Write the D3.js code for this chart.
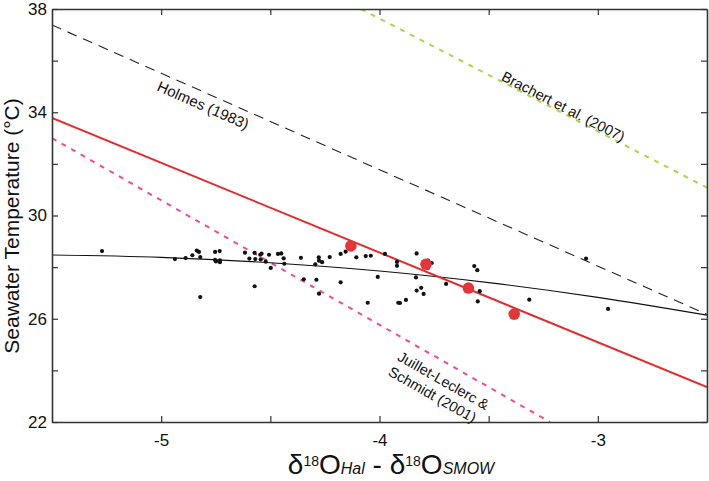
<!DOCTYPE html>
<html>
<head>
<meta charset="utf-8">
<script src="https://cdn.jsdelivr.net/npm/d3@7"></script>
<style>
html,body{margin:0;padding:0;background:#fff;}
svg{display:block;font-family:"Liberation Sans",Arial,sans-serif;}
</style>
</head>
<body>
<svg id="chart" width="709" height="481"></svg>
<script>
// ---- data ----
const xDomain = [-5.5, -2.5];
const yDomain = [22, 38];
const xTicks = [-5, -4.5, -4, -3.5, -3];
const xTickLabels = {"-5": "-5", "-4": "-4", "-3": "-3"};
const yTicks = [22, 24, 26, 28, 30, 32, 34, 36, 38];
const yTickLabels = {"22": "22", "26": "26", "30": "30", "34": "34", "38": "38"};

// small black points (x = δ18O, y = temperature)
const pointsX = [-5.271,-4.937,-4.888,-4.857,-4.837,-4.827,-4.821,-4.753,-4.732,-4.753,-4.749,-4.731,-4.731,-4.821,
  -4.616,-4.596,-4.572,-4.569,-4.546,-4.540,-4.544,-4.521,-4.506,-4.465,-4.450,-4.439,-4.436,-4.498,-4.572,
  -4.360,-4.278,-4.277,-4.263,-4.294,-4.228,-4.347,-4.289,-4.277,-4.178,-4.155,-4.106,-4.063,-4.040,-4.178,
  -4.008,-4.054,-3.975,-3.920,-3.920,-3.914,-3.906,-3.879,-3.830,-3.778,-3.761,-3.778,-3.833,-3.695,-3.809,
  -3.830,-3.798,-3.566,-3.552,-3.541,-3.550,-3.314,-3.054,-2.953];
const pointsY = [28.62,28.31,28.35,28.46,28.64,28.59,28.39,28.59,28.62,28.28,28.22,28.26,28.19,26.84,
  28.56,28.33,28.55,28.31,28.48,28.52,28.30,28.21,28.48,28.51,28.53,28.34,28.13,27.97,27.26,
  28.36,28.38,28.25,28.19,28.11,28.39,27.53,27.51,26.97,28.51,28.60,28.38,28.43,28.44,27.41,
  27.62,26.62,28.51,28.20,28.05,26.62,26.61,26.73,28.53,28.25,28.16,27.97,27.60,27.35,27.20,
  27.09,26.96,28.04,27.88,27.07,26.67,26.74,28.33,26.38];

// large red points
const redX = [-4.131, -3.787, -3.593, -3.383];
const redY = [28.82, 28.11, 27.19, 26.18];

// black fitted curve through the small points
const curveX = [-5.5, -5.0, -4.5, -4.0, -3.5, -3.0, -2.5];
const curveY = [28.47, 28.38, 28.17, 27.85, 27.40, 26.83, 26.14];

// calibration lines (end points)
const holmesX = [-5.5, -2.5],    holmesY = [37.38, 26.17];
const thisStudyX = [-5.5, -2.5], thisStudyY = [33.78, 23.35];
const juilletX = [-5.5, -3.219], juilletY = [33.0, 22.0];
const brachertX = [-4.085, -2.5], brachertY = [38.0, 31.08];

// ---- drawing ----
const svg = d3.select("#chart");
const mLeft = 52, mRight = 707, mTop = 9, mBottom = 422;
const x = d3.scaleLinear().domain(xDomain).range([mLeft, mRight]);
const y = d3.scaleLinear().domain(yDomain).range([mBottom, mTop]);

const zip = (a, b) => a.map((v, i) => [v, b[i]]);
const line = d3.line().x(d => x(d[0])).y(d => y(d[1]));

svg.append("clipPath").attr("id", "clip").append("rect")
  .attr("x", mLeft).attr("y", mTop).attr("width", mRight - mLeft).attr("height", mBottom - mTop);
const g = svg.append("g").attr("clip-path", "url(#clip)");

// Holmes
g.append("path").attr("d", line(zip(holmesX, holmesY)))
  .attr("fill", "none").attr("stroke", "#222").attr("stroke-width", 1.1).attr("stroke-dasharray", "10,7");
// Brachert
g.append("path").attr("d", line(zip(brachertX, brachertY)))
  .attr("fill", "none").attr("stroke", "#a6d84a").attr("stroke-width", 2).attr("stroke-dasharray", "5,6");
// Juillet-Leclerc & Schmidt
g.append("path").attr("d", line(zip(juilletX, juilletY)))
  .attr("fill", "none").attr("stroke", "#f04b93").attr("stroke-width", 2).attr("stroke-dasharray", "5,6");
// black curve
g.append("path").attr("d", d3.line().curve(d3.curveMonotoneX).x(d => x(d[0])).y(d => y(d[1]))(zip(curveX, curveY)))
  .attr("fill", "none").attr("stroke", "#111").attr("stroke-width", 1.2);
// this study
g.append("path").attr("d", line(zip(thisStudyX, thisStudyY)))
  .attr("fill", "none").attr("stroke", "#e42a2c").attr("stroke-width", 2);

// points
g.selectAll("circle.pt").data(zip(pointsX, pointsY)).enter().append("circle")
  .attr("class", "pt").attr("cx", d => x(d[0])).attr("cy", d => y(d[1])).attr("r", 2.1).attr("fill", "#111");
g.selectAll("circle.red").data(zip(redX, redY)).enter().append("circle")
  .attr("class", "red").attr("cx", d => x(d[0])).attr("cy", d => y(d[1])).attr("r", 5.8).attr("fill", "#e33638");

// axes
const axisColor = "#333";
function styleAxis(sel) {
  sel.selectAll("path.domain").attr("stroke", axisColor).attr("stroke-width", 1.6);
  sel.selectAll(".tick line").attr("stroke", axisColor).attr("stroke-width", 1.2);
  sel.selectAll("text").attr("fill", "#111").attr("font-size", 17)
    .attr("font-family", "'Liberation Sans', Arial, sans-serif");
}
const xb = svg.append("g").attr("transform", `translate(0,${mBottom})`)
  .call(d3.axisBottom(x).tickValues(xTicks).tickSizeInner(-6).tickSizeOuter(0).tickPadding(12)
    .tickFormat(d => xTickLabels[String(d)] || ""));
styleAxis(xb);
const xt = svg.append("g").attr("transform", `translate(0,${mTop})`)
  .call(d3.axisTop(x).tickValues(xTicks).tickSizeInner(-6).tickSizeOuter(0).tickFormat(""));
styleAxis(xt);
const yl = svg.append("g").attr("transform", `translate(${mLeft},0)`)
  .call(d3.axisLeft(y).tickValues(yTicks).tickSizeInner(-6).tickSizeOuter(0).tickPadding(5)
    .tickFormat(d => yTickLabels[String(d)] || ""));
styleAxis(yl);
const yr = svg.append("g").attr("transform", `translate(${mRight},0)`)
  .call(d3.axisRight(y).tickValues(yTicks).tickSizeInner(-6).tickSizeOuter(0).tickFormat(""));
styleAxis(yr);

// line labels
function label(text, cx, cy, angle, size) {
  svg.append("text").attr("transform", `translate(${cx},${cy}) rotate(${angle})`)
    .attr("text-anchor", "middle").attr("font-size", size).attr("fill", "#111").text(text);
}
label("Holmes (1983)", 201, 110, 23.8, 15);
label("Brachert et al. (2007)", 561, 111, 27.3, 14.5);
label("Juillet-Leclerc &", 441, 385, 29.5, 14.5);
label("Schmidt (2001)", 430, 399, 29.5, 14.5);

// y axis title
svg.append("text").attr("transform", "translate(19,226) rotate(-90)")
  .attr("text-anchor", "middle").attr("font-size", 21).attr("fill", "#111")
  .text("Seawater Temperature (°C)");

// x axis title
const xt2 = svg.append("text").attr("x", 391).attr("y", 474).attr("text-anchor", "middle").attr("fill", "#111");
xt2.append("tspan").attr("font-size", 28).text("δ");
xt2.append("tspan").attr("font-size", 14).attr("dy", -8).text("18");
xt2.append("tspan").attr("font-size", 28).attr("dy", 8).text("O");
xt2.append("tspan").attr("font-size", 16).attr("font-style", "italic").text("Hal");
xt2.append("tspan").attr("font-size", 28).text(" - δ");
xt2.append("tspan").attr("font-size", 14).attr("dy", -8).text("18");
xt2.append("tspan").attr("font-size", 28).attr("dy", 8).text("O");
xt2.append("tspan").attr("font-size", 16).attr("font-style", "italic").text("SMOW");
</script>
</body>
</html>
